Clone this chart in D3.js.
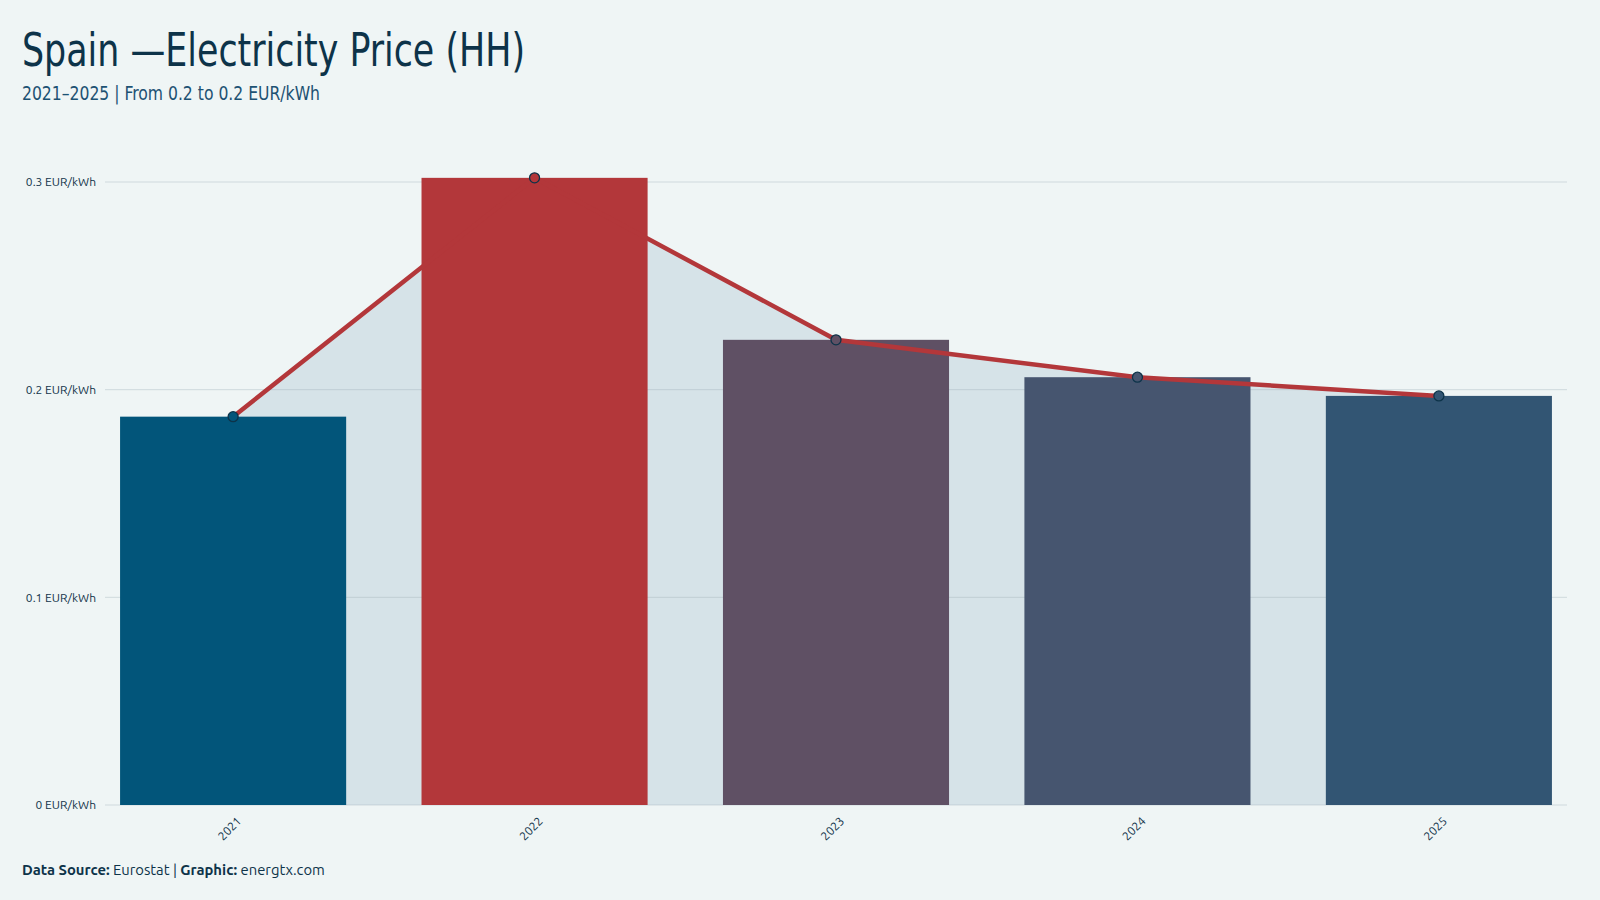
<!DOCTYPE html>
<html>
<head>
<meta charset="utf-8">
<script src="https://cdn.jsdelivr.net/npm/d3@7"></script>
<style>
  html, body { margin: 0; padding: 0; background: #eff5f5; }
  svg { display: block; }
</style>
</head>
<body>
<div id="chart"></div>
<script>
// data
const years = ["2021", "2022", "2023", "2024", "2025"];
const prices = [0.187, 0.302, 0.224, 0.206, 0.197];
const barColors = ["#02557a", "#b3373a", "#5f5064", "#46556f", "#325573"];
const yTicks = [0, 0.1, 0.2, 0.3];
const unit = "EUR/kWh";

const width = 1600, height = 900;
const condensed = "'Ubuntu Condensed', 'Liberation Sans Narrow', 'DejaVu Sans Condensed', sans-serif";
const sans = "Ubuntu, 'Noto Sans', 'Open Sans', sans-serif";

const svg = d3.select("#chart").append("svg")
    .attr("width", width)
    .attr("height", height);

svg.append("rect")
    .attr("width", width)
    .attr("height", height)
    .attr("fill", "#eff5f5");

const x = d3.scaleBand()
    .domain(years)
    .range([105, 1567])
    .paddingInner(0.25)
    .paddingOuter(0.05);

const y = d3.scaleLinear()
    .domain([0, 0.3])
    .range([805, 182]);

const data = years.map((yr, i) => ({ year: yr, value: prices[i], color: barColors[i] }));

// title block
svg.append("text")
    .attr("x", 22)
    .attr("y", 66)
    .attr("font-family", condensed)
    .attr("font-size", 46)
    .attr("fill", "#0d3349")
    .attr("textLength", 503)
    .attr("lengthAdjust", "spacingAndGlyphs")
    .text("Spain —Electricity Price (HH)");

svg.append("text")
    .attr("x", 22)
    .attr("y", 100)
    .attr("font-family", condensed)
    .attr("font-size", 20)
    .attr("fill", "#1d5273")
    .attr("textLength", 298)
    .attr("lengthAdjust", "spacingAndGlyphs")
    .text("2021–2025 | From 0.2 to 0.2 EUR/kWh");

// area under the line
const area = d3.area()
    .x(d => x(d.year) + x.bandwidth() / 2)
    .y0(y(0))
    .y1(d => y(d.value));

svg.append("path")
    .datum(data)
    .attr("d", area)
    .attr("fill", "#d6e3e8");

// grid
const grid = svg.append("g");
grid.selectAll("line")
    .data(yTicks)
    .enter()
    .append("line")
    .attr("x1", 105)
    .attr("x2", 1567)
    .attr("y1", d => y(d))
    .attr("y2", d => y(d))
    .attr("stroke", "#98aab3")
    .attr("stroke-opacity", 0.35)
    .attr("stroke-width", 1);

// y labels
const yAxis = d3.axisLeft(y)
    .tickValues(yTicks)
    .tickSize(0)
    .tickPadding(9)
    .tickFormat(d => `${d3.format("~g")(d)} ${unit}`);

svg.append("g")
    .attr("transform", "translate(105,0)")
    .call(yAxis)
    .call(g => g.select(".domain").remove())
    .selectAll("text")
    .attr("font-family", sans)
    .attr("font-size", 12)
    .attr("fill", "#12344a");

// bars
svg.append("g")
    .selectAll("rect")
    .data(data)
    .enter()
    .append("rect")
    .attr("x", d => x(d.year))
    .attr("y", d => y(d.value))
    .attr("width", x.bandwidth())
    .attr("height", d => y(0) - y(d.value))
    .attr("fill", d => d.color);

// line + points
const line = d3.line()
    .x(d => x(d.year) + x.bandwidth() / 2)
    .y(d => y(d.value));

svg.append("path")
    .datum(data)
    .attr("d", line)
    .attr("fill", "none")
    .attr("stroke", "#b3373a")
    .attr("stroke-width", 4.5);

svg.append("g")
    .selectAll("circle")
    .data(data)
    .enter()
    .append("circle")
    .attr("cx", d => x(d.year) + x.bandwidth() / 2)
    .attr("cy", d => y(d.value))
    .attr("r", 5)
    .attr("fill", d => d.color)
    .attr("stroke", "#0d3349")
    .attr("stroke-width", 1.3);

// x labels, rotated
const xAxis = d3.axisBottom(x).tickSize(0).tickPadding(0);
svg.append("g")
    .attr("transform", `translate(0,${y(0)})`)
    .call(xAxis)
    .call(g => g.select(".domain").remove())
    .selectAll("text")
    .attr("font-family", sans)
    .attr("font-size", 12)
    .attr("fill", "#12344a")
    .attr("text-anchor", "end")
    .attr("dy", 0)
    .attr("transform", "translate(9,17) rotate(-45)");

// footer
const foot = svg.append("text")
    .attr("x", 22)
    .attr("y", 875)
    .attr("font-family", sans)
    .attr("font-size", 14.8)
    .attr("fill", "#0d3349");
foot.append("tspan").attr("font-weight", "bold").text("Data Source:");
foot.append("tspan").text(" Eurostat | ");
foot.append("tspan").attr("font-weight", "bold").text("Graphic:");
foot.append("tspan").text(" energtx.com");
</script>
</body>
</html>
